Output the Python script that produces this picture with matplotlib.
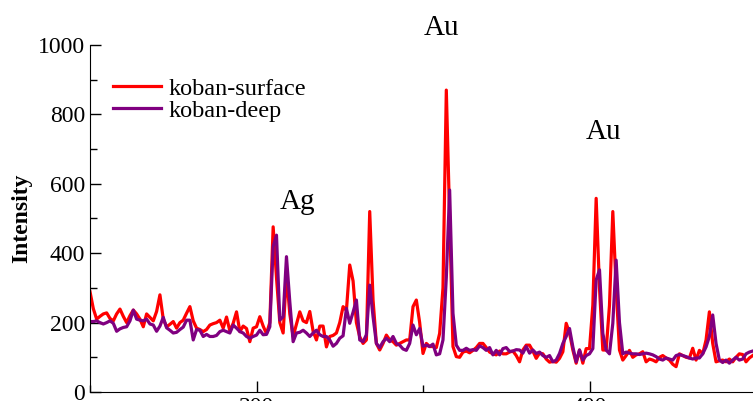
import matplotlib
matplotlib.use("Agg")
import matplotlib.pyplot as plt
from matplotlib.ticker import MultipleLocator
import numpy as np

x_start = 250
surface = [
    289, 240, 210, 218, 225, 228, 212, 205, 225, 239, 218, 200, 220, 236, 225, 210, 188, 225, 215, 205, 232, 280, 210, 188, 195,  # 250-274
    203, 184, 200, 207, 227, 246, 205, 184, 180, 174, 180, 193, 197, 200, 207, 184, 216, 176, 198, 231, 174, 190, 183, 145, 184,  # 275-299
    188, 217, 190, 168, 200, 476, 330, 200, 170, 340, 225, 160, 195, 231, 205, 200, 232, 175, 150, 190, 190, 130, 160, 163, 170,  # 300-324
    200, 246, 235, 366, 320, 200, 159, 140, 150, 520, 265, 140, 121, 140, 164, 150, 145, 135, 140, 145, 150, 150, 246, 265, 200,  # 325-349
    111, 140, 131, 131, 128, 169, 300, 870, 500, 131, 102, 100, 115, 118, 113, 120, 128, 140, 140, 128, 115, 110, 107, 118, 110,  # 350-374
    110, 115, 118, 105, 87, 121, 135, 135, 118, 97, 112, 110, 95, 86, 88, 86, 97, 116, 198, 170, 121, 83, 121, 83, 125,  # 375-399
    125, 250, 558, 300, 121, 121, 250, 520, 300, 121, 92, 105, 120, 100, 107, 110, 116, 87, 95, 92, 87, 100, 105, 98, 92,  # 400-424
    80, 73, 110, 105, 100, 98, 126, 92, 120, 110, 150, 231, 140, 87, 90, 92, 87, 95, 87, 100, 110, 108, 87, 98, 105,  # 425-449
]
deep = [
    203, 203, 205, 200, 196, 200, 205, 198, 175, 182, 186, 188, 205, 236, 210, 207, 205, 210, 196, 193, 175, 190, 215, 185, 178,  # 250-274
    170, 172, 180, 187, 207, 207, 150, 180, 178, 160, 166, 160, 160, 163, 174, 178, 174, 170, 193, 184, 174, 170, 160, 155, 160,  # 275-299
    164, 178, 165, 166, 188, 419, 452, 207, 217, 390, 260, 145, 170, 172, 178, 170, 160, 170, 178, 165, 160, 160, 150, 132, 140,  # 300-324
    155, 162, 241, 198, 230, 265, 150, 145, 165, 308, 217, 140, 128, 145, 155, 145, 160, 140, 135, 124, 120, 140, 193, 165, 183,  # 325-349
    132, 135, 131, 138, 107, 110, 150, 330, 582, 227, 135, 120, 120, 126, 120, 122, 120, 133, 128, 120, 128, 107, 120, 107, 125,  # 350-374
    128, 117, 118, 122, 121, 112, 131, 112, 121, 111, 115, 105, 100, 105, 87, 92, 111, 140, 160, 183, 130, 87, 121, 92, 105,  # 375-399
    110, 125, 323, 352, 169, 121, 110, 198, 380, 200, 110, 115, 112, 110, 110, 108, 110, 112, 110, 107, 102, 95, 92, 98, 95,  # 400-424
    92, 105, 108, 105, 102, 98, 95, 98, 98, 110, 130, 160, 222, 140, 92, 85, 92, 83, 92, 100, 92, 95, 110, 115, 118,  # 425-449
]
x = np.arange(x_start, x_start + len(surface))
series_labels = ["koban-surface", "koban-deep"]
peak_labels = ["Ag", "Au", "Au"]
peak_pos = [(312.3, 548), (355.5, 1050), (404.2, 750)]

plt.rcParams['font.family'] = ['Liberation Serif', 'DejaVu Serif']

fig = plt.figure(figsize=(7.53, 4.01), dpi=100)
ax = fig.add_axes([90/753, 9/401, 666/753, 347/401])
ax.plot(x, surface, color='#ff0000', lw=2.3, label=series_labels[0])
ax.plot(x, deep, color='#800080', lw=2.3, label=series_labels[1])

ax.set_xlim(250, 450)
ax.set_ylim(0, 1000)
ax.spines['top'].set_visible(False)
ax.spines['right'].set_visible(False)
ax.xaxis.set_major_locator(MultipleLocator(100))
ax.xaxis.set_minor_locator(MultipleLocator(50))
ax.yaxis.set_major_locator(MultipleLocator(200))
ax.yaxis.set_minor_locator(MultipleLocator(100))
ax.tick_params(which='both', direction='in', labelsize=17, width=1)
ax.tick_params(which='major', length=8)
ax.tick_params(which='minor', length=5)
ax.set_ylabel("Intensity", fontsize=17, fontweight='bold', labelpad=4)

for lab, (px, py) in zip(peak_labels, peak_pos):
    ax.text(px, py, lab, fontsize=21, ha='center', va='center', clip_on=False)

ax.legend(loc='upper left', bbox_to_anchor=(0.002, 0.968), frameon=False, fontsize=17.5,
          handlelength=1.95, handletextpad=0.33, labelspacing=0.0, borderaxespad=0.5)

fig.savefig("out.png", dpi=100)
